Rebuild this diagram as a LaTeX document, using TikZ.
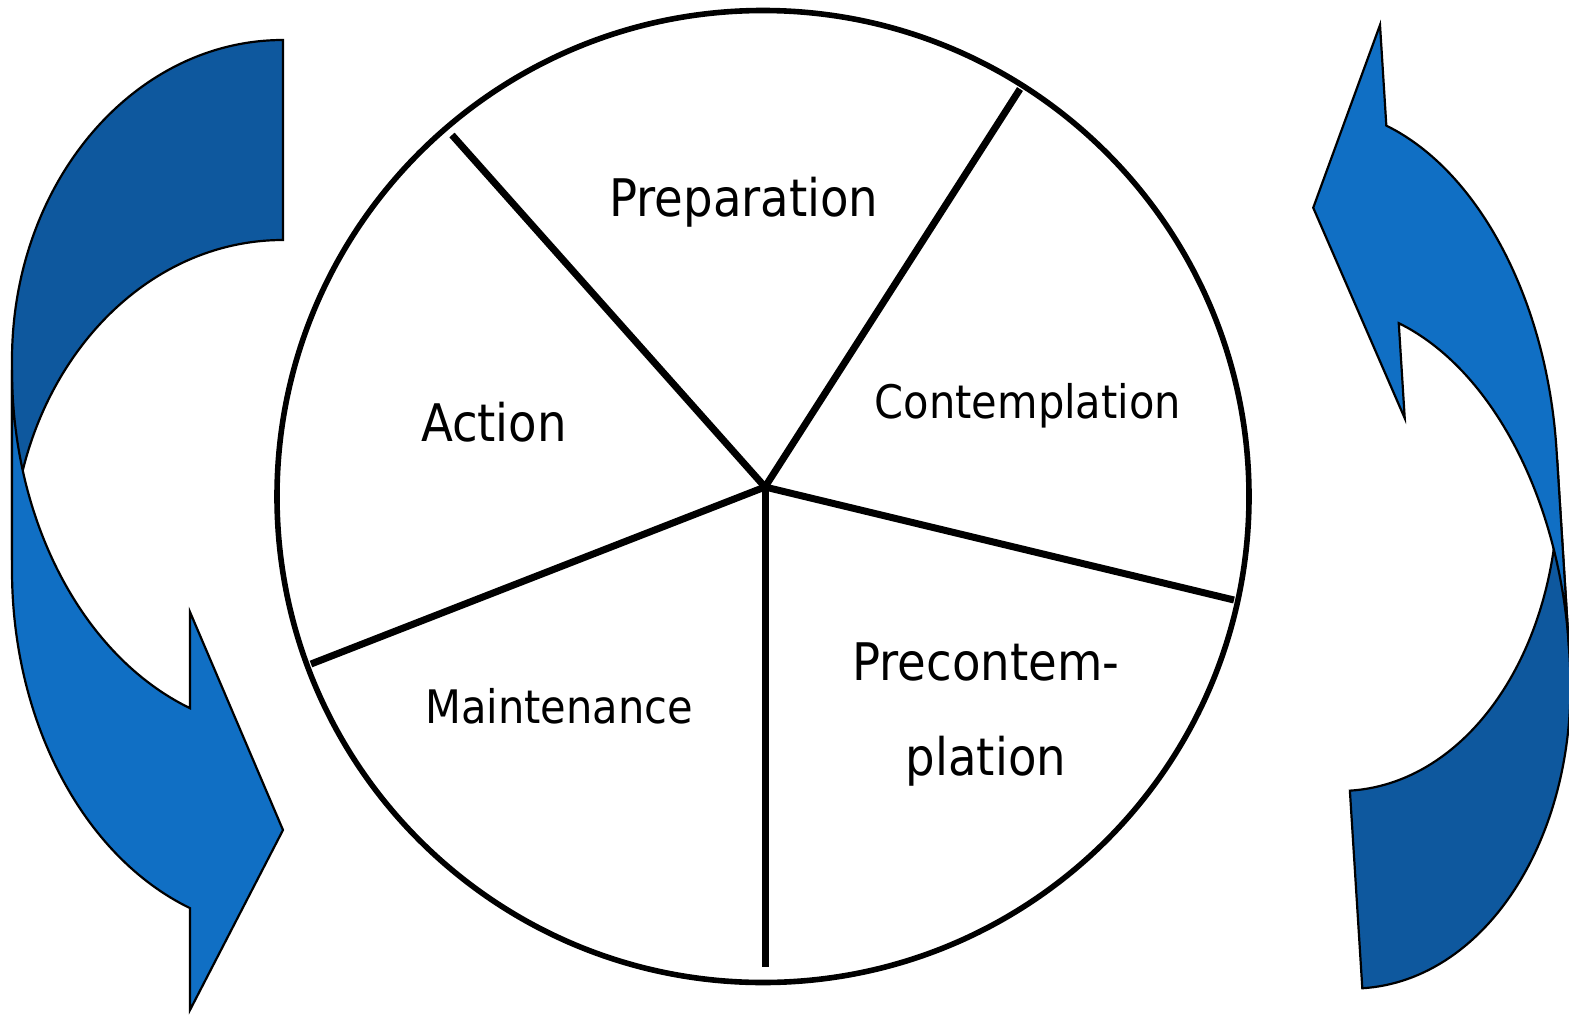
\documentclass[tikz,border=0pt]{standalone}
\usepackage{fontspec}
\newfontfamily\tah{DejaVu Sans Condensed}
\definecolor{arrowdark}{RGB}{14,88,158}
\definecolor{arrowlight}{RGB}{16,111,196}
\newcommand\stagearrowshape{%
  \path[backpart] (283,40) arc[start angle=-90,end angle=-180,x radius=271,y radius=320]
     -- (12,560) arc[start angle=180,end angle=270,x radius=271,y radius=320] -- cycle;
  \path[frontpart] (12,370) -- (12,570)
     arc[start angle=180,end angle=110.07,x radius=271,y radius=360]
     -- (190,1010) -- (283,830) -- (190,612) -- (190,708.2)
     arc[start angle=110.07,end angle=180,x radius=271,y radius=360] -- cycle;
}
\begin{document}
\begin{tikzpicture}[x=0.5pt,y=-0.5pt,
  backpart/.style={fill=arrowdark,draw=black,line width=1.1pt,line join=miter},
  frontpart/.style={fill=arrowlight,draw=black,line width=1.1pt,line join=miter},
  wheel/.style={draw=black,line width=2.8pt,fill=white},
  spoke/.style={draw=black,line width=3.5pt},
  stagebig/.style={font=\tah\fontsize{25.9}{30}\selectfont,anchor=base,inner sep=0pt},
  stagesmall/.style={font=\tah\fontsize{23.1}{28}\selectfont,anchor=base,inner sep=0pt}]
\useasboundingbox (0,0) rectangle (1569,1017);
\fill[white] (0,0) rectangle (1569,1017);

% left curved arrow
\begin{scope}
  \stagearrowshape
\end{scope}
% right curved arrow (rotated copy, narrower)
\begin{scope}[shift={(1380,25)},rotate=-176.4,xscale=0.84,yscale=0.99,shift={(-190,-1010)}]
  \stagearrowshape
\end{scope}

% wheel
\draw[wheel] (763,496.5) circle[radius=486];
\coordinate (c) at (765,487);
\coordinate (e1) at (452,135);
\coordinate (e2) at (1020,89);
\coordinate (e3) at (1234,600);
\coordinate (e4) at (765,967);
\coordinate (e5) at (311,664);
\draw[spoke] (c) -- (e1);
\draw[spoke] (c) -- (e2);
\draw[spoke] (c) -- (e3);
\draw[spoke] (c) -- (e4);
\draw[spoke] (c) -- (e5);

% labels
\node[stagebig] (prep) at (744,216) {Preparation};
\node[stagebig] (act) at (494,441) {Action};
\node[stagesmall] (cont) at (1028,418) {Contemplation};
\node[stagesmall] (maint) at (559,723) {Maintenance};
\node[stagebig] (pre1) at (986,680) {Precontem-};
\node[stagebig] (pre2) at (986,775) {plation};
\end{tikzpicture}
\end{document}
